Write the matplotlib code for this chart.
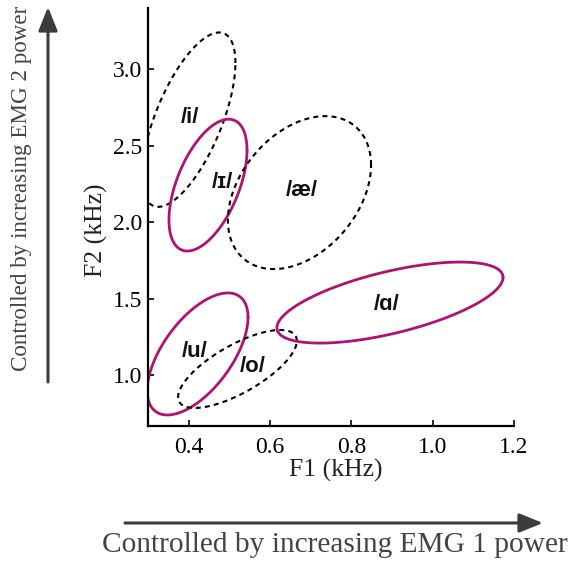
import numpy as np
import matplotlib
matplotlib.use("Agg")
import matplotlib.pyplot as plt
from matplotlib.patches import FancyArrowPatch

# ---- data ----
vowels = ["/i/", "/ɪ/", "/æ/", "/u/", "/o/", "/ɑ/"]
center_f1 = [0.400, 0.4475, 0.6725, 0.422, 0.520, 0.895]   # kHz
center_f2 = [2.670, 2.242, 2.193, 1.138, 1.040, 1.474]     # kHz
radius_f1 = [0.115, 0.096, 0.176, 0.124, 0.146, 0.278]
radius_f2 = [0.570, 0.431, 0.500, 0.399, 0.255, 0.265]
correlation = [0.65, 0.53, 0.36, 0.60, 0.72, 0.62]
styles = ["dashed", "solid", "dashed", "solid", "dashed", "solid"]
label_f1 = [0.403, 0.482, 0.679, 0.4156, 0.558, 0.888]
label_f2 = [2.687, 2.262, 2.209, 1.151, 1.059, 1.464]
xticks = [0.4, 0.6, 0.8, 1.0, 1.2]
yticks = [1.0, 1.5, 2.0, 2.5, 3.0]

W, H = 572, 561
fig = plt.figure(figsize=(W / 100, H / 100), dpi=100)
ax = fig.add_axes([148 / W, 1 - 426 / H, (514 - 148) / W, (426 - 8) / H])
ax.set_xlim(0.3, 1.2)
ax.set_ylim(0.667, 3.40)

MAG = "#B01273"
t = np.linspace(0, 2 * np.pi, 400)
for cx, cy, rx, ry, rho, st in zip(center_f1, center_f2, radius_f1, radius_f2, correlation, styles):
    phi = np.arccos(rho)
    xs = cx + rx * np.cos(t)
    ys = cy + ry * np.cos(t - phi)
    if st == "solid":
        ax.plot(xs, ys, color=MAG, lw=2.0, solid_capstyle="round")
    else:
        ax.plot(xs, ys, color="black", lw=1.5, dashes=(2.4, 2.0))

for lab, lx, ly in zip(vowels, label_f1, label_f2):
    ax.text(lx, ly, lab, ha="center", va="center", fontsize=16, fontweight="bold",
            family=["Liberation Sans", "DejaVu Sans"], color="#111111")

for s in ["top", "right"]:
    ax.spines[s].set_visible(False)
for s in ["left", "bottom"]:
    ax.spines[s].set_linewidth(1.6)

ax.set_xticks(xticks)
ax.set_xticklabels([f"{v:.1f}" for v in xticks])
ax.set_yticks(yticks)
ax.set_yticklabels([f"{v:.1f}" for v in yticks])
ax.tick_params(direction="in", length=4, width=1.2, labelsize=17, pad=4)
for lbl in ax.get_xticklabels() + ax.get_yticklabels():
    lbl.set_family("Liberation Serif")
ax.tick_params(axis="x", pad=8)

def fx(px):
    return px / W

def fy(py):
    return 1 - py / H

fig.text(fx(336), fy(470), "F1 (kHz)", ha="center", va="center", fontsize=18.5,
         family="Liberation Serif", color="#222222")
fig.text(fx(96), fy(230), "F2 (kHz)", ha="center", va="center", fontsize=18.5,
         family="Liberation Serif", color="#222222", rotation=90)

ARROW = "#3c3c3c"
for (x0, y0), (x1, y1) in [((125, 523), (543, 523)), ((48, 382), (48, 7))]:
    fig.add_artist(FancyArrowPatch((fx(x0), fy(y0)), (fx(x1), fy(y1)), transform=fig.transFigure,
                                   arrowstyle="-|>,head_length=1.44,head_width=0.58",
                                   mutation_scale=10, color=ARROW, lw=2.2, shrinkA=0, shrinkB=0))

fig.text(fx(335), fy(545), "Controlled by increasing EMG 1 power", ha="center", va="center",
         fontsize=21.2, family="Liberation Serif", color="#444444")
fig.text(fx(22), fy(188), "Controlled by increasing EMG 2 power", ha="center", va="center",
         fontsize=16.6, family="Liberation Serif", color="#444444", rotation=90)

fig.savefig("out.png", dpi=100)
